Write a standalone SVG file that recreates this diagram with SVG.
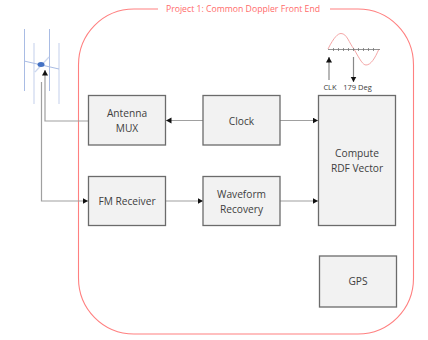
<svg xmlns="http://www.w3.org/2000/svg" width="428" height="340" viewBox="0 0 428 340">
<style>
text{font-family:"Open Sans","Noto Sans","Liberation Sans",sans-serif;font-size:10.200px;fill:#404040;text-anchor:middle}
.box{fill:#f2f2f2;stroke:#6b6b6b;stroke-width:1.300}
.wire{fill:none;stroke:#a0a0a0;stroke-width:1.200}
.ant{stroke:#a9bce4;stroke-width:1;fill:none}
.ant2{stroke:#cdd8ef;stroke-width:1.200;fill:none}
</style>
<defs>
<marker id="a" markerUnits="userSpaceOnUse" markerWidth="7" markerHeight="7" refX="5.500" refY="3" orient="auto"><path d="M0 0L5.500 3L0 6z" fill="#111"/></marker>
</defs>
<g id="frame">
<path d="M158 9H134C103 9 78.500 34 78.500 65V278C78.500 309 103 334 134 334H358C389 334 413.500 309 413.500 278V65C413.500 34 389 9 358 9H330" fill="none" stroke="#ff8080" stroke-width="1.100"/>
<text x="243" y="12" style="fill:#ff6b6b;font-size:8.700px">Project 1: Common Doppler Front End</text>
</g>
<g id="antenna">
<path class="ant" d="M24.500 29V91M49.500 29V91"/>
<path class="ant2" d="M34 43V104M59 43V104M35 72L49 57"/>
<path class="ant" d="M24 61L59 69"/>
<ellipse cx="41" cy="64.500" rx="3.500" ry="2.500" fill="#4472c4"/>
</g>
<g id="connectors">
<path class="wire" d="M88 121H45V70" marker-end="url(#a)"/>
<path class="wire" d="M41.500 82V201H88" marker-end="url(#a)"/>
<path class="wire" d="M203 120.500H166" marker-end="url(#a)"/>
<path class="wire" d="M280 120.500H318" marker-end="url(#a)"/>
<path class="wire" d="M166 201H203" marker-end="url(#a)"/>
<path class="wire" d="M280 201H318" marker-end="url(#a)"/>
</g>
<g id="antenna-mux"><rect class="box" x="88.500" y="95.500" width="77" height="49.500"/><text x="127" y="117">Antenna</text><text x="127" y="131.500">MUX</text></g>
<g id="clock"><rect class="box" x="203" y="95.500" width="77" height="49.500"/><text x="241.500" y="124.500">Clock</text></g>
<g id="fm-receiver"><rect class="box" x="88.500" y="176.500" width="77" height="49"/><text x="127" y="205">FM Receiver</text></g>
<g id="waveform-recovery"><rect class="box" x="203" y="176.500" width="77" height="49"/><text x="241.500" y="197.500">Waveform</text><text x="241.500" y="212.500">Recovery</text></g>
<g id="compute-rdf"><rect class="box" x="318.500" y="95.500" width="77" height="130"/><text x="357" y="157">Compute</text><text x="357" y="172">RDF Vector</text></g>
<g id="gps"><rect class="box" x="319.500" y="256" width="77" height="51"/><text x="358" y="285">GPS</text></g>
<g id="waveform">
<path d="M328 49C334 37 338 33.500 341 33.500C347 33.500 349 43 354 49C360 60 363 65 366 65C371 65 375 58 379 49" fill="none" stroke="#f4a6a6" stroke-width="1"/>
<path d="M328 49.500H380M333.500 48V51M338.500 48V51M343.500 48V51M348.500 48V51M353.500 48V51M358.500 48V51M363.500 48V51M368.500 48V51M373.500 48V51" fill="none" stroke="#777" stroke-width="0.800"/>
<path class="wire" d="M329 80V57" style="stroke:#888" marker-end="url(#a)"/>
<path class="wire" d="M353.500 57V82" style="stroke:#888" marker-end="url(#a)"/>
<text x="330" y="90" style="font-size:7.500px">CLK</text>
<text x="357.500" y="90" style="font-size:7.500px">179 Deg</text>
</g>
</svg>
